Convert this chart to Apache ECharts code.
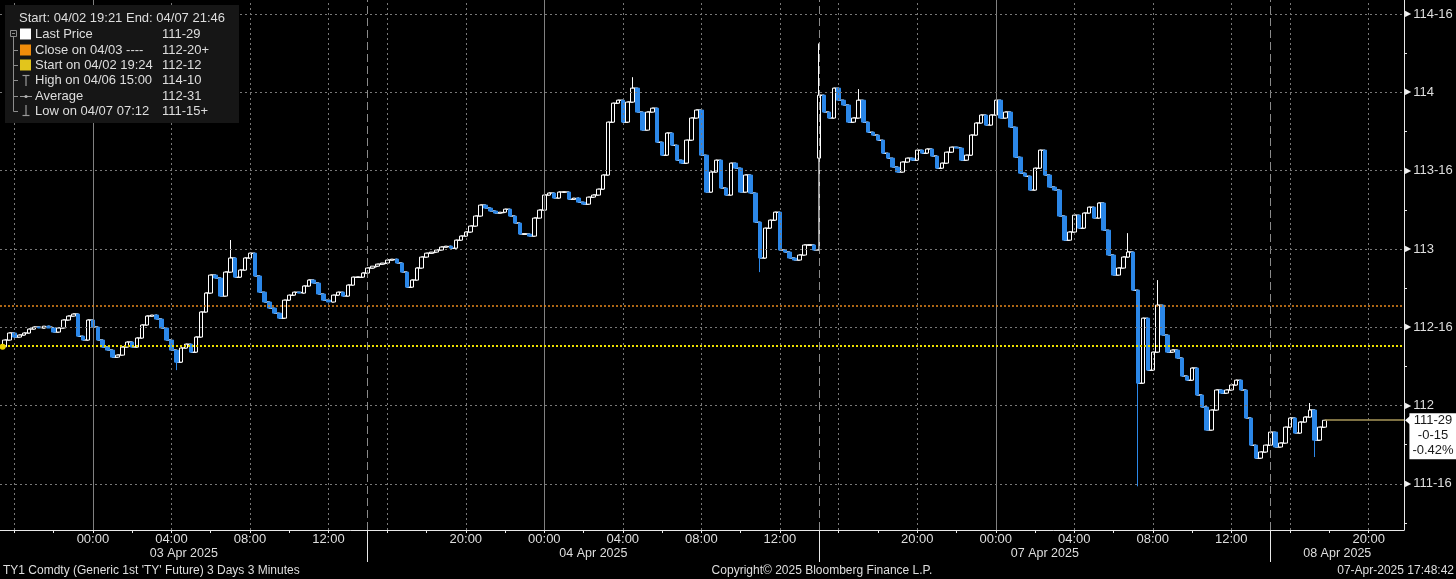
<!DOCTYPE html>
<html><head><meta charset="utf-8">
<script src="https://cdn.jsdelivr.net/npm/echarts@6/dist/echarts.min.js"></script>
<style>html,body{margin:0;padding:0;background:#000;}#c{width:1456px;height:579px;}</style>
</head><body><div id="c"></div>
<script>
// ---------- data ----------
const sessionDates = ['03 Apr 2025', '04 Apr 2025', '07 Apr 2025', '08 Apr 2025'];
const sessionOpenTimes = ['2025-04-02 15:00', '2025-04-03 15:00', '2025-04-06 15:00', '2025-04-07 15:00'];
const firstBarTimes = ['2025-04-02 19:30', '2025-04-03 15:00', '2025-04-06 15:00', '2025-04-07 15:00'];
const sessionOpenPrices = [112.375, null, 113.58, null];
const barMinutes = 15;
const windowStart = '2025-04-02 19:16';
const windowEnd = '2025-04-07 21:48';

const pricesApr03 = [112.418,112.463,112.437,112.450,112.463,112.488,112.501,112.495,112.507,112.495,
 112.469,112.495,112.546,112.571,112.584,112.443,112.418,112.546,112.501,112.418,
 112.373,112.354,112.309,112.322,112.373,112.405,112.373,112.431,112.514,112.571,
 112.578,112.552,112.495,112.418,112.354,112.277,112.367,112.392,112.341,112.437,
 112.597,112.718,112.833,112.814,112.699,112.852,112.942,112.820,112.865,112.942,
 112.973,112.827,112.724,112.661,112.622,112.590,112.558,112.673,112.705,112.724,
 112.718,112.763,112.801,112.782,112.712,112.673,112.661,112.705,112.724,112.699,
 112.769,112.820,112.820,112.846];
const pricesApr04 = [112.878,112.890,112.903,112.910,112.929,112.935,112.910,112.852,112.756,112.801,
 112.878,112.948,112.973,112.980,112.993,113.012,113.018,113.005,113.056,113.082,
 113.108,113.146,113.210,113.280,113.261,113.242,113.229,113.235,113.254,113.210,
 113.165,113.095,113.095,113.082,113.197,113.248,113.344,113.357,113.325,113.363,
 113.363,113.318,113.325,113.299,113.286,113.331,113.344,113.382,113.472,113.810,
 113.931,113.950,113.810,113.938,114.027,113.874,113.759,113.874,113.899,113.682,
 113.599,113.740,113.663,113.567,113.548,113.695,113.836,113.887,113.599,113.363,
 113.491,113.567,113.389,113.344,113.548,113.516,113.363,113.472,113.357,113.171,
 112.942,113.133,113.184,113.235,112.993,112.980,112.942,112.929,112.961,113.025,
 113.025,112.993];
const pricesApr07 = [113.982,113.874,113.836,114.027,113.950,113.919,113.810,113.836,113.950,113.810,
 113.746,113.727,113.695,113.612,113.580,113.523,113.491,113.555,113.580,113.567,
 113.631,113.612,113.638,113.593,113.516,113.548,113.618,113.650,113.644,113.567,
 113.599,113.727,113.804,113.855,113.791,113.855,113.950,113.836,113.874,113.778,
 113.586,113.484,113.465,113.376,113.516,113.631,113.472,113.395,113.376,113.210,
 113.056,113.108,113.216,113.133,113.229,113.267,113.197,113.293,113.120,112.961,
 112.833,112.878,112.948,112.980,112.737,112.143,112.558,112.226,112.341,112.641,
 112.450,112.341,112.354,112.303,112.188,112.162,112.239,112.067,111.990,111.843,
 111.971,112.099,112.079,112.099,112.131,112.162,112.099,111.920,111.747,111.664,
 111.703,111.747];
const pricesApr08 = [111.830,111.735,111.760,111.862,111.920,111.824,111.894,111.926,111.971,111.779,111.862,111.906];

// [time, low, high] of bars whose range reaches beyond open/close
const spikes = [
 ['2025-04-03 04:15', 112.226, null],
 ['2025-04-03 07:00', null, 113.057],
 ['2025-04-04 04:30', null, 114.097],
 ['2025-04-04 11:00', 112.852, null],
 ['2025-04-06 15:00', 113.58, 114.3125],
 ['2025-04-06 17:00', null, 114.021],
 ['2025-04-07 06:45', null, 113.101],
 ['2025-04-07 07:15', 111.484, null],
 ['2025-04-07 08:15', null, 112.801],
 ['2025-04-07 17:00', null, 112.016],
 ['2025-04-07 17:15', 111.671, null]
];

const yRange = [111.205, 114.59];
const yTicks = [111.5, 112, 112.5, 113, 113.5, 114, 114.5];
const yMinorTicks = [111.25, 111.75, 112.25, 112.75, 113.25, 113.75, 114.25];
const closeOn0403 = 112.640625;   // 112-20+
const startPrice = 112.375;       // 112-12
const startTime = '2025-04-02 19:24';
const lastPrice = 111.90625;      // 111-29
const lastTag = ['111-29', '-0-15', '-0.42%'];

const legendHeader = 'Start: 04/02 19:21 End: 04/07 21:46';
const legendLabels = ['Last Price', 'Close on 04/03 ----', 'Start on 04/02 19:24', 'High on 04/06 15:00', 'Average', 'Low on 04/07 07:12'];
const legendValues = ['111-29', '112-20+', '112-12', '114-10', '112-31', '111-15+'];
const footerLeft = "TY1 Comdty (Generic 1st 'TY' Future) 3 Days 3 Minutes";
const footerMid = 'Copyright\u00A9 2025 Bloomberg Finance L.P.';
const footerRight = '07-Apr-2025 17:48:42';

// ---------- trading-time axis helpers ----------
const SESSION_LEN = 23;
function parseT(s) {
  const [d, t] = s.split(' ');
  const [Y, M, D] = d.split('-').map(Number);
  const [h, m] = t.split(':').map(Number);
  return Date.UTC(Y, M - 1, D, h, m) / 3600000;
}
const openH = sessionOpenTimes.map(parseT);
function toU(s) {
  const t = parseT(s);
  let idx = 0;
  for (let i = 0; i < openH.length; i++) if (t >= openH[i]) idx = i;
  return idx * SESSION_LEN + Math.min(t - openH[idx], SESSION_LEN);
}
function clockOf(u) {
  const idx = Math.min(openH.length - 1, Math.floor(u / SESSION_LEN + 1e-9));
  const off = u - idx * SESSION_LEN;
  return ((15 + off) % 24 + 24) % 24;
}
function clockLabel(u) {
  const c = clockOf(u);
  const h = Math.floor(c + 1e-9), m = Math.round((c - h) * 60);
  return String(h).padStart(2, '0') + ':' + String(m).padStart(2, '0');
}
function fmt32(v) {
  const w = Math.floor(v + 1e-9);
  const f = (v - w) * 32;
  const n = Math.floor(f + 1e-6);
  const half = (f - n) > 0.25;
  if (n === 0 && !half) return String(w);
  return w + '-' + String(n).padStart(2, '0') + (half ? '+' : '');
}

const uMin = toU(windowStart), uMax = toU(windowEnd);
const ticks2h = [], labelTicks = [], vDotted = [], vSolid = [];
for (let s = 0; s < openH.length; s++) {
  for (let k = 1; k < SESSION_LEN; k += 2) {
    const u = s * SESSION_LEN + k;
    if (u < uMin || u > uMax) continue;
    ticks2h.push(u);
    const c = clockOf(u);
    if (c === 0) vSolid.push(u);
    else if (c % 4 === 0) vDotted.push(u);
    if (c % 4 === 0 && c !== 16 && u > uMin + 1.5) labelTicks.push(u);
  }
}
const sessionBreaks = [];
for (let s = 1; s < openH.length; s++) sessionBreaks.push(s * SESSION_LEN);
const dateMids = sessionDates.map((d, s) => {
  const a = Math.max(uMin, s * SESSION_LEN), b = Math.min(uMax, (s + 1) * SESSION_LEN);
  return (a + b) / 2;
});
function dateLabel(v) {
  let best = 0;
  dateMids.forEach((m, i) => { if (Math.abs(m - v) < Math.abs(dateMids[best] - v)) best = i; });
  return sessionDates[best];
}

// ---------- bars ----------
const sessions = [pricesApr03, pricesApr04, pricesApr07, pricesApr08];
const candles = [];
let prev = null;
sessions.forEach((arr, s) => {
  const u0 = toU(firstBarTimes[s]);
  arr.forEach((c, i) => {
    const u = u0 + i * barMinutes / 60;
    const o = (i === 0 && sessionOpenPrices[s] != null) ? sessionOpenPrices[s] : (prev == null ? c : prev);
    candles.push([u, o, c, Math.min(o, c), Math.max(o, c)]);
    prev = c;
  });
});
spikes.forEach(([t, lo, hi]) => {
  const u = toU(t);
  const b = candles.find(d => Math.abs(d[0] - u) < 1e-6);
  if (!b) return;
  if (lo != null) b[3] = Math.min(b[3], lo);
  if (hi != null) b[4] = Math.max(b[4], hi);
});
const closePath = candles.map(d => [d[0], d[2]]);
const lastU = candles[candles.length - 1][0];

// ---------- styles ----------
const FONT = '"Liberation Sans", Arial, sans-serif';
const TXT = '#dedede';
const AX = '#e8e8e8';
const BLUE = '#2b87e8';
const gridDot = { color: '#787878', type: [2, 3], width: 1 };

const gridLines = [];
vDotted.forEach(u => gridLines.push({ xAxis: u, lineStyle: gridDot }));
vSolid.forEach(u => gridLines.push({ xAxis: u, lineStyle: { color: '#808080', type: 'solid', width: 1 } }));
sessionBreaks.forEach(u => gridLines.push({ xAxis: u, lineStyle: { color: '#8a8a8a', type: [8, 4], width: 1 } }));
yTicks.forEach(v => gridLines.push({ yAxis: v, lineStyle: gridDot }));

// ---------- legend / footer graphics ----------
const graphics = [];
function txt(t, x, y, align, size, fill) {
  return { type: 'text', z: 101, silent: true, style: { text: t, x, y, fill: fill || TXT, fontSize: size || 13, fontFamily: FONT, align: align || 'left', verticalAlign: 'middle' } };
}
function ln(x1, y1, x2, y2, c, w) {
  return { type: 'line', z: 101, silent: true, shape: { x1, y1, x2, y2 }, style: { stroke: c || '#8c8c8c', lineWidth: w || 1 } };
}
graphics.push({ type: 'rect', z: 100, silent: true, shape: { x: 5, y: 5, width: 234, height: 118 }, style: { fill: '#161616' } });
graphics.push(txt(legendHeader, 19, 18));
const rowY = [34, 50, 65, 80, 96, 111];
const sq = ['#ffffff', '#f08c0a', '#e2c51c'];
graphics.push({ type: 'rect', z: 101, silent: true, shape: { x: 10.5, y: 30.5, width: 6, height: 6 }, style: { fill: 'none', stroke: '#8c8c8c', lineWidth: 1 } });
graphics.push(ln(12, 33.5, 15, 33.5));
graphics.push(ln(13.5, 37, 13.5, 111.5));
rowY.slice(1).forEach(y => graphics.push(ln(13.5, y + 0.5, 18, y + 0.5)));
legendLabels.forEach((l, i) => {
  const y = rowY[i];
  if (i < 3) graphics.push({ type: 'rect', z: 101, silent: true, shape: { x: 20, y: y - 5.5, width: 11, height: 11 }, style: { fill: sq[i] } });
  graphics.push(txt(l, 35, y));
  graphics.push(txt(legendValues[i], 162, y));
});
graphics.push(ln(22.5, 75.5, 29.5, 75.5, '#9a9a9a', 1.2), ln(26, 75.5, 26, 86, '#9a9a9a', 1.2));
graphics.push(ln(20, 96.5, 32, 96.5, '#9a9a9a', 1), { type: 'circle', z: 101, silent: true, shape: { cx: 26, cy: 96.5, r: 1.6 }, style: { fill: '#b0b0b0' } });
graphics.push(ln(26, 105, 26, 115.5, '#9a9a9a', 1.2), ln(22.5, 115.5, 29.5, 115.5, '#9a9a9a', 1.2));
graphics.push(txt(footerLeft, 3, 571, 'left', 12));
graphics.push(txt(footerMid, 822, 571, 'center', 12));
graphics.push(txt(footerRight, 1454, 571, 'right', 12));

// ---------- chart ----------
const chart = echarts.init(document.getElementById('c'), null, { renderer: 'canvas' });
const baseX = { type: 'value', min: uMin, max: uMax, position: 'bottom', splitLine: { show: false } };
chart.setOption({
  backgroundColor: '#000',
  animation: false,
  grid: { left: 0, right: 52, top: 0, bottom: 49 },
  xAxis: [
    Object.assign({}, baseX, {
      axisLine: { show: true, onZero: false, lineStyle: { color: AX, width: 1 } },
      axisTick: { show: true, customValues: ticks2h, length: 3, lineStyle: { color: AX } },
      axisLabel: { show: true, customValues: labelTicks, formatter: v => clockLabel(v), color: TXT, fontSize: 13, fontFamily: FONT, margin: 3 }
    }),
    Object.assign({}, baseX, {
      axisLine: { show: false },
      axisTick: { show: true, customValues: sessionBreaks, length: 32, lineStyle: { color: AX } },
      axisLabel: { show: false }
    }),
    Object.assign({}, baseX, {
      axisLine: { show: false },
      axisTick: { show: false },
      axisLabel: { show: true, customValues: dateMids, formatter: v => dateLabel(v), color: TXT, fontSize: 12.5, fontFamily: FONT, margin: 17 }
    })
  ],
  yAxis: {
    type: 'value', position: 'right', min: yRange[0], max: yRange[1], scale: true,
    axisLine: { show: true, lineStyle: { color: AX, width: 1 } },
    axisTick: { show: true, customValues: yMinorTicks, length: 3, lineStyle: { color: AX } },
    axisLabel: {
      show: true, customValues: yTicks, margin: 1,
      formatter: v => '{a|\u25B6}{v|' + fmt32(v) + '}',
      rich: {
        a: { fontSize: 8, color: '#f2f2f2', fontFamily: 'DejaVu Sans', padding: [0, 2, 0, 0] },
        v: { fontSize: 13, color: TXT, fontFamily: FONT }
      }
    },
    splitLine: { show: false }
  },
  graphic: graphics,
  series: [
    {
      type: 'line', data: [], z: 1, silent: true,
      markLine: { silent: true, symbol: ['none', 'none'], label: { show: false }, animation: false, data: gridLines }
    },
    {
      type: 'line', z: 2, silent: true, data: closePath, step: 'end', showSymbol: false, symbol: 'none',
      lineStyle: { color: '#f4f4f4', width: 1.5 }
    },
    {
      type: 'candlestick', z: 3, data: candles, barWidth: 4,
      encode: { x: 0, y: [1, 2, 3, 4] },
      itemStyle: { color: '#000000', color0: BLUE, borderColor: '#ffffff', borderColor0: BLUE, borderWidth: 1 },
      markLine: {
        silent: true, symbol: ['none', 'none'], label: { show: false }, animation: false,
        data: [
          { yAxis: closeOn0403, lineStyle: { color: '#e8891c', type: [2, 2], width: 1.5 } },
          { yAxis: startPrice, lineStyle: { color: '#eee000', type: [2, 2], width: 2 } },
          [{ coord: [lastU, lastPrice], lineStyle: { color: '#a8975a', type: 'solid', width: 1.5 } }, { coord: [uMax, lastPrice] }]
        ]
      },
      markPoint: {
        silent: true, animation: false,
        data: [
          { coord: [toU(startTime), startPrice], symbol: 'circle', symbolSize: 6, itemStyle: { color: '#e8d000' }, label: { show: false } },
          {
            coord: [uMax, lastPrice], symbol: 'path://M0,6L7,0L7,12Z', symbolSize: [7, 12], symbolOffset: [4.5, 0],
            itemStyle: { color: '#ffffff' },
            label: {
              show: true, position: [28, -1], align: 'center', verticalAlign: 'top',
              formatter: lastTag.join('\n'), color: '#1a1a1a', backgroundColor: '#ffffff',
              fontSize: 13, fontFamily: FONT, lineHeight: 15, padding: [0, 3, 1, 3]
            }
          }
        ]
      }
    }
  ]
});
</script>
</body></html>
